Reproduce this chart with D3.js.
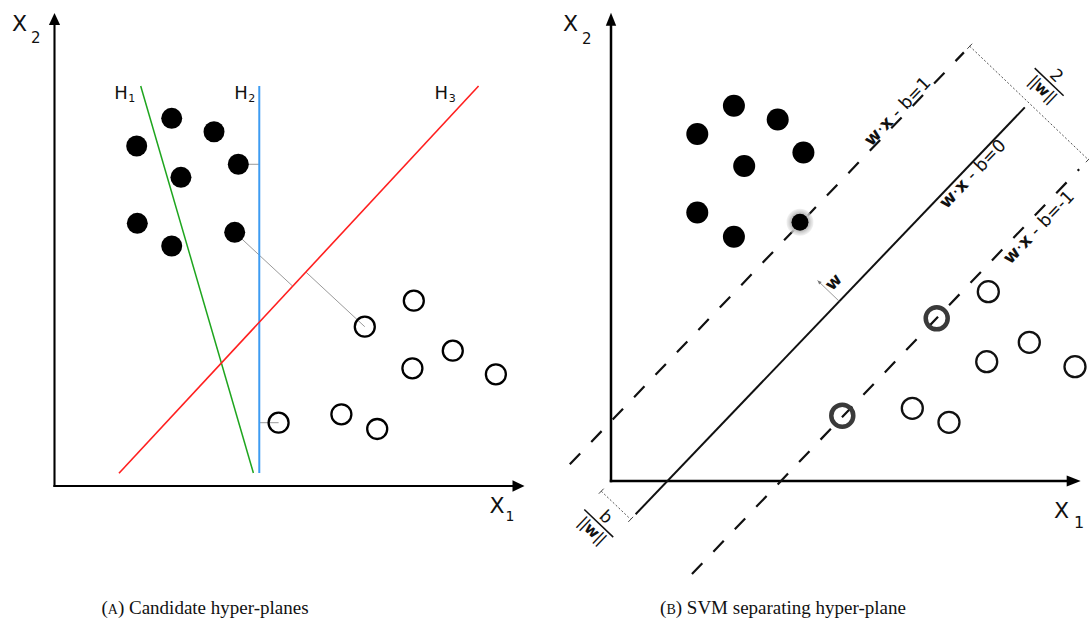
<!DOCTYPE html>
<html>
<head>
<meta charset="utf-8">
<script src="https://cdn.jsdelivr.net/npm/d3@7"></script>
<style>
  html, body { margin: 0; padding: 0; background: #fff; }
  svg { display: block; }
  text { font-family: "DejaVu Sans", sans-serif; fill: #111; }
</style>
</head>
<body>
<svg id="fig" width="1089" height="629"></svg>
<script>
// ---------------- Panel A: candidate hyper-planes ----------------
// two classes of samples in (x1, x2)
const filledA = [[2.494,7.823],[3.394,7.538],[1.749,7.234],[3.911,6.845],[2.690,6.568],[1.762,5.589],[2.494,5.106],[3.834,5.397]];
const openA   = [[7.645,3.943],[6.602,3.389],[8.474,2.879],[7.615,2.504],[9.391,2.377],[4.768,1.347],[6.104,1.526],[6.866,1.213]];
// candidate separating lines H1, H2, H3 (end points)
const planeNames = ["1", "2", "3"];
const planeFrom  = [[1.834,8.511],[4.357,8.511],[9.023,8.511]];
const planeTo    = [[4.232,0.277],[4.357,0.277],[1.372,0.270]];
// closest samples joined to a plane: [class, index, plane]
const marginLinks = [["filled",7,2],["open",1,2],["filled",3,1],["open",5,1]];

// ---------------- Panel B: SVM separating hyper-plane ----------------
const filledB = [[2.615,7.985],[3.547,7.691],[1.836,7.381],[4.094,6.989],[2.834,6.704],[1.836,5.711],[2.615,5.196]];
const openB   = [[8.028,4.028],[8.900,2.951],[7.994,2.538],[9.872,2.432],[6.411,1.547],[7.191,1.249]];
const supportFilledB = [[4.021,5.506]];
const supportOpenB   = [[6.930,3.462],[4.921,1.389]];
// weight vector and offset of the decision rule  w·x - b
const weights = [-0.414, 0.396];
const bias = -0.497;
// levels w·x - b = c, and the stretch of each line along the plane
const levels    = [1, 0, -1];
const levelText = ["1", "0", "-1"];
const levelSpan = [[-0.35, 11.78], [-0.15, 11.83], [-0.24, 11.68]];
const levelLabelAt = [9.894, 10.04, 10.19];
const captions = [["A", "Candidate hyper-planes"], ["B", "SVM separating hyper-plane"]];

const svg = d3.select("#fig");

function arrowHead(g, tip, dir, len, half, color) {
  const bx = tip[0] - dir[0] * len, by = tip[1] - dir[1] * len;
  const px = -dir[1], py = dir[0];
  g.append("path")
    .attr("d", `M${tip[0]},${tip[1]}L${bx + px * half},${by + py * half}L${bx - px * half},${by - py * half}Z`)
    .attr("fill", color);
}

function axes(g, x, y, xMax, yMax, width, xHead, yHead) {
  const o = [x(0), y(0)];
  const xt = [x(xMax), y(0)], yt = [x(0), y(yMax)];
  g.append("line").attr("x1", o[0] - width / 2).attr("y1", o[1]).attr("x2", xt[0] - xHead[0] + 2).attr("y2", xt[1])
    .attr("stroke", "#000").attr("stroke-width", width);
  g.append("line").attr("x1", o[0]).attr("y1", o[1] + width / 2).attr("x2", yt[0]).attr("y2", yt[1] + yHead[0] - 2)
    .attr("stroke", "#000").attr("stroke-width", width);
  arrowHead(g, xt, [1, 0], xHead[0], xHead[1], "#000");
  arrowHead(g, yt, [0, -1], yHead[0], yHead[1], "#000");
}

function subLabel(g, x, y, main, sub, mainSize, subSize, subDx, subDy) {
  const t = g.append("text").attr("x", x).attr("y", y).attr("font-size", mainSize);
  t.append("tspan").text(main);
  t.append("tspan").attr("dx", subDx).attr("dy", subDy).attr("font-size", subSize).text(sub);
}

function foot(p, a, b) {
  const vx = b[0] - a[0], vy = b[1] - a[1];
  const t = ((p[0] - a[0]) * vx + (p[1] - a[1]) * vy) / (vx * vx + vy * vy);
  return [a[0] + t * vx, a[1] + t * vy];
}

// ================= Panel A =================
const xA = d3.scaleLinear().domain([0, 10]).range([54.5, 524.5]);
const yA = d3.scaleLinear().domain([0, 10]).range([486, 16]);
const gA = svg.append("g");

axes(gA, xA, yA, 10, 10.064, 2.1, [12, 5.8], [12, 5.6]);
subLabel(gA, 12, 31, "X", "2", 22, 15, 4, 12);
subLabel(gA, 489.5, 513.3, "X", "1", 22, 14, 1, 7.5);

const planeColors = ["#1ea51e", "#3d9cf2", "#ff1f1f"];
const planeWidths = [1.5, 2, 1.6];
const planeLabelOffset = [[-26.5, 13], [-25, 13], [-44, 13]];

const classPts = { filled: filledA, open: openA };
// distance strokes first so the filled dots sit over them
marginLinks.forEach(([cls, i, k]) => {
  const p = [xA(classPts[cls][i][0]), yA(classPts[cls][i][1])];
  const a = [xA(planeFrom[k][0]), yA(planeFrom[k][1])];
  const b = [xA(planeTo[k][0]), yA(planeTo[k][1])];
  const f = foot(p, a, b);
  gA.append("line").attr("x1", p[0]).attr("y1", p[1]).attr("x2", f[0]).attr("y2", f[1])
    .attr("stroke", "#9a9a9a").attr("stroke-width", 1);
});

planeNames.forEach((nm, k) => {
  gA.append("line")
    .attr("x1", xA(planeFrom[k][0])).attr("y1", yA(planeFrom[k][1]))
    .attr("x2", xA(planeTo[k][0])).attr("y2", yA(planeTo[k][1]))
    .attr("stroke", planeColors[k]).attr("stroke-width", planeWidths[k]);
  const top = planeFrom[k][1] > planeTo[k][1] ? planeFrom[k] : planeTo[k];
  subLabel(gA, xA(top[0]) + planeLabelOffset[k][0], yA(top[1]) + planeLabelOffset[k][1], "H", nm, 18, 11, 0.5, 3);
});

gA.selectAll("circle.f").data(filledA).join("circle").attr("class", "f")
  .attr("cx", d => xA(d[0])).attr("cy", d => yA(d[1])).attr("r", 10.5).attr("fill", "#000");
gA.selectAll("circle.o").data(openA).join("circle").attr("class", "o")
  .attr("cx", d => xA(d[0])).attr("cy", d => yA(d[1])).attr("r", 10)
  .attr("fill", "none").attr("stroke", "#000").attr("stroke-width", 2.3);

// ================= Panel B =================
const xB = d3.scaleLinear().domain([0, 10]).range([611, 1081]);
const yB = d3.scaleLinear().domain([0, 10]).range([481, 11]);
const gB = svg.append("g");

const defs = svg.append("defs");
const halo = defs.append("radialGradient").attr("id", "halo");
halo.append("stop").attr("offset", "0%").attr("stop-color", "#a8a8a8");
halo.append("stop").attr("offset", "70%").attr("stop-color", "#c4c4c4");
halo.append("stop").attr("offset", "100%").attr("stop-color", "#e4e4e4").attr("stop-opacity", 0.5);

axes(gB, xB, yB, 9.994, 9.964, 2.5, [14, 5.4], [13, 5.2]);
subLabel(gB, 563, 31, "X", "2", 22, 15, 4, 13);
subLabel(gB, 1054, 518, "X", "1", 22, 16, 5, 10);

const wNorm = Math.hypot(weights[0], weights[1]);
const nrm = [weights[0] / wNorm, weights[1] / wNorm];   // unit normal (data space)
const dir = [nrm[1], -nrm[0]];                          // unit direction along the plane
const onLevel = (c, t) => [nrm[0] * (bias + c) / wNorm + dir[0] * t, nrm[1] * (bias + c) / wNorm + dir[1] * t];
const px = p => [xB(p[0]), yB(p[1])];
const lineAngle = Math.atan2(yB(dir[1]) - yB(0), xB(dir[0]) - xB(0)) * 180 / Math.PI;
const fracAngle = lineAngle + 90;
const uS = [Math.cos(lineAngle * Math.PI / 180), Math.sin(lineAngle * Math.PI / 180)];   // screen along-line

levels.forEach((c, i) => {
  const a = px(onLevel(c, levelSpan[i][0])), b = px(onLevel(c, levelSpan[i][1]));
  gB.append("line").attr("x1", a[0]).attr("y1", a[1]).attr("x2", b[0]).attr("y2", b[1])
    .attr("stroke", "#111").attr("stroke-width", c === 0 ? 2 : 2.2)
    .attr("stroke-dasharray", c === 0 ? null : "15,16");
});

// level labels  w·x - b = c
const labelBaseline = [-1.5, 14, 16.5];
levels.forEach((c, i) => {
  const p = px(onLevel(c, levelLabelAt[i]));
  const t = gB.append("g").attr("transform", `translate(${p[0]},${p[1]}) rotate(${lineAngle})`)
    .append("text").attr("x", 0).attr("y", labelBaseline[i]).attr("text-anchor", "middle").attr("font-size", 17.5);
  t.append("tspan").attr("font-weight", "bold").text("w");
  t.append("tspan").text("·");
  t.append("tspan").attr("font-weight", "bold").text("x");
  t.append("tspan").text(" - b=" + levelText[i]);
});

// margin marker (2/||w||) and offset marker (b/||w||)
function dimension(p0, p1) {
  gB.append("line").attr("x1", p0[0]).attr("y1", p0[1]).attr("x2", p1[0]).attr("y2", p1[1])
    .attr("stroke", "#555").attr("stroke-width", 1).attr("stroke-dasharray", "2,2");
  [p0, p1].forEach(q => {
    gB.append("line").attr("x1", q[0] - uS[0] * 3.5).attr("y1", q[1] - uS[1] * 3.5)
      .attr("x2", q[0] + uS[0] * 3.5).attr("y2", q[1] + uS[1] * 3.5)
      .attr("stroke", "#444").attr("stroke-width", 1);
  });
}
function fraction(center, num) {
  const g = gB.append("g").attr("transform", `translate(${center[0]},${center[1]}) rotate(${fracAngle})`);
  g.append("line").attr("x1", -20).attr("x2", 20).attr("y1", 0).attr("y2", 0).attr("stroke", "#111").attr("stroke-width", 1.5);
  g.append("text").attr("x", 1).attr("y", -4).attr("text-anchor", "middle").attr("font-size", 17).text(num);
  const d = g.append("text").attr("x", 0).attr("y", 15).attr("text-anchor", "middle").attr("font-size", 15.5);
  d.append("tspan").attr("letter-spacing", -1).text("||");
  d.append("tspan").attr("font-weight", "bold").text("w");
  d.append("tspan").attr("letter-spacing", -1).text("||");
}
const tTop = 11.96, tBottom = -0.30;
dimension(px(onLevel(1, tTop)), px(onLevel(-1, tTop)));
fraction(px(onLevel(0, tTop + 0.62)), "2");
const originShift = [dir[0] * tBottom, dir[1] * tBottom];
dimension(px(originShift), px(onLevel(0, tBottom)));
const midB = onLevel(0, tBottom);
fraction(px([(originShift[0] + midB[0]) / 2 - dir[0] * 0.53, (originShift[1] + midB[1]) / 2 - dir[1] * 0.53]), "b");

// weight vector w drawn off the decision line
const wBase = onLevel(0, 6.12);
const wTip = [wBase[0] + nrm[0] * 0.64, wBase[1] + nrm[1] * 0.64];
const wb = px(wBase), wt = px(wTip);
gB.append("line").attr("x1", wb[0]).attr("y1", wb[1]).attr("x2", wt[0]).attr("y2", wt[1])
  .attr("stroke", "#999").attr("stroke-width", 1);
const wLen = Math.hypot(wt[0] - wb[0], wt[1] - wb[1]);
arrowHead(gB, wt, [(wt[0] - wb[0]) / wLen, (wt[1] - wb[1]) / wLen], 4, 1.8, "#777");
gB.append("g").attr("transform", `translate(${wb[0]},${wb[1]}) rotate(${lineAngle})`)
  .append("text").attr("x", 10).attr("y", -12).attr("text-anchor", "middle")
  .attr("font-size", 17).attr("font-weight", "bold").text("w");

// samples
gB.selectAll("circle.f").data(filledB).join("circle").attr("class", "f")
  .attr("cx", d => xB(d[0])).attr("cy", d => yB(d[1])).attr("r", 11).attr("fill", "#000");
supportFilledB.forEach(d => {
  gB.append("circle").attr("cx", xB(d[0])).attr("cy", yB(d[1])).attr("r", 13.5).attr("fill", "url(#halo)");
  gB.append("circle").attr("cx", xB(d[0])).attr("cy", yB(d[1])).attr("r", 8.5).attr("fill", "#000");
});
gB.selectAll("circle.o").data(openB).join("circle").attr("class", "o")
  .attr("cx", d => xB(d[0])).attr("cy", d => yB(d[1])).attr("r", 10.5)
  .attr("fill", "none").attr("stroke", "#111").attr("stroke-width", 2.3);
gB.selectAll("circle.s").data(supportOpenB).join("circle").attr("class", "s")
  .attr("cx", d => xB(d[0])).attr("cy", d => yB(d[1])).attr("r", 11)
  .attr("fill", "none").attr("stroke", "#3a3a3a").attr("stroke-width", 4.5);

// ---------------- captions ----------------
const captionCenter = [205, 783];
captions.forEach(([tag, txt], i) => {
  const t = svg.append("text").attr("x", captionCenter[i]).attr("y", 614).attr("text-anchor", "middle")
    .style("font-family", "'Liberation Serif', serif").attr("font-size", 19);
  t.append("tspan").text("(");
  t.append("tspan").attr("font-size", 14).text(tag);
  t.append("tspan").text(") " + txt);
});
</script>
</body>
</html>
